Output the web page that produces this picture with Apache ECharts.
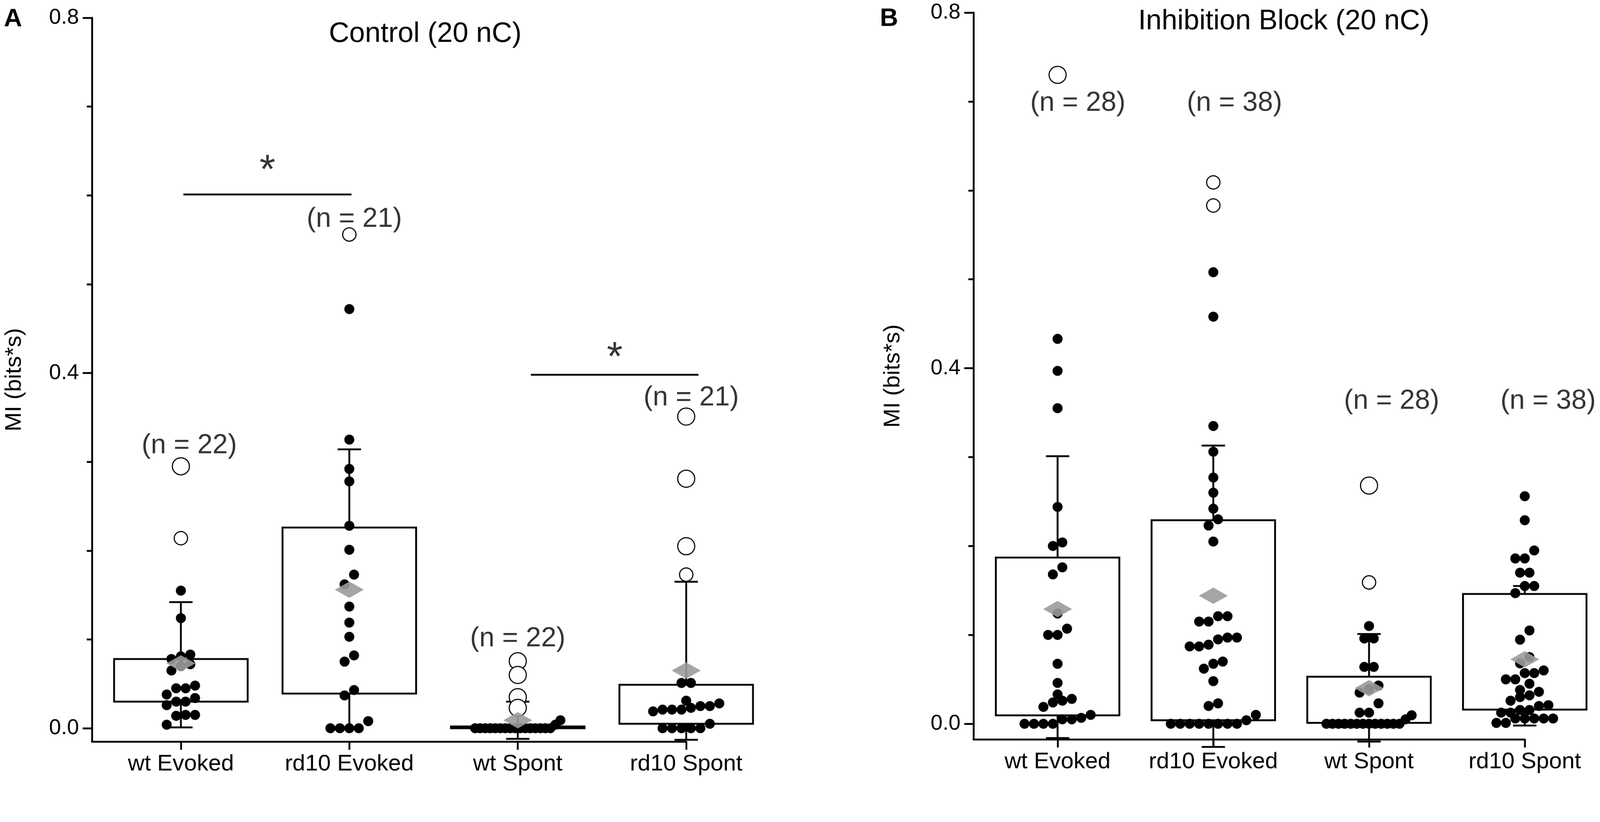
<!DOCTYPE html>
<html>
<head>
<meta charset="utf-8">
<title>MI: Control vs Inhibition Block</title>
<script src="https://cdn.jsdelivr.net/npm/echarts@6.0.0/dist/echarts.min.js"></script>
<style>
html, body { margin: 0; padding: 0; background: #fff; overflow: hidden; }
#plot { width: 4316px; height: 2105px; }
</style>
</head>
<body>
<div id="plot"></div>
<script>
// ---- data ----
var categories = ['wt Evoked', 'rd10 Evoked', 'wt Spont', 'rd10 Spont'];
var yTickLabels = [0, 0.4, 0.8];
var yMinorTicks = [0.1, 0.2, 0.3, 0.5, 0.6, 0.7];

// A: Control (20 nC)
var ctrlN = [22, 21, 22, 21];
var ctrlDots = [
	[0.155, 0.124, 0.083, 0.081, 0.078, 0.072, 0.070, 0.065, 0.048, 0.045, 0.045, 0.038, 0.034, 0.030, 0.030, 0.026, 0.015, 0.015, 0.014, 0.004],
	[0.472, 0.325, 0.292, 0.278, 0.228, 0.201, 0.173, 0.162, 0.137, 0.119, 0.103, 0.082, 0.075, 0.043, 0.037, 0.008, 0, 0, 0, 0],
	[0.009, 0.004, 0, 0, 0, 0, 0, 0, 0, 0, 0, 0, 0, 0, 0, 0, 0, 0],
	[0.051, 0.051, 0.031, 0.028, 0.025, 0.025, 0.023, 0.021, 0.021, 0.021, 0.019, 0.005, 0, 0, 0, 0, 0]
];
var ctrlOpenSmall = [[0.214], [0.556], [], [0.173]];
var ctrlOpenLarge = [[0.295], [], [0.0755, 0.060, 0.035, 0.023], [0.351, 0.281, 0.205]];
var ctrlBox = [[0.030, 0.078], [0.039, 0.226], [0.0, 0.002], [0.005, 0.049]];
var ctrlWhisker = [[0.001, 0.142], [0.0, 0.314], [-0.012, 0.030], [-0.013, 0.165]];
var ctrlMean = [0.073, 0.156, 0.009, 0.065];
// from, to, bar level, star level
var ctrlSig = [[0.015, 1.013, 0.601, 0.638], [2.078, 3.073, 0.398, 0.427]];

// B: Inhibition Block (20 nC)
var blockN = [28, 38, 28, 38];
var blockDots = [
	[0.433, 0.397, 0.355, 0.244, 0.204, 0.200, 0.176, 0.168, 0.124, 0.107, 0.100, 0.100, 0.0675, 0.046, 0.033, 0.028, 0.026, 0.024, 0.019, 0.010, 0.0067, 0.005, 0.005, 0, 0, 0, 0],
	[0.508, 0.458, 0.335, 0.306, 0.277, 0.260, 0.242, 0.230, 0.223, 0.205, 0.121, 0.121, 0.115, 0.115, 0.097, 0.097, 0.095, 0.089, 0.087, 0.087, 0.070, 0.0675, 0.062, 0.048, 0.023, 0.020, 0.010, 0.004, 0, 0, 0, 0, 0, 0, 0, 0],
	[0.110, 0.096, 0.096, 0.064, 0.064, 0.043, 0.039, 0.035, 0.023, 0.0125, 0.0125, 0.0096, 0.005, 0, 0, 0, 0, 0, 0, 0, 0, 0, 0, 0, 0, 0],
	[0.256, 0.229, 0.195, 0.186, 0.186, 0.170, 0.170, 0.155, 0.155, 0.147, 0.105, 0.0946, 0.075, 0.068, 0.060, 0.057, 0.057, 0.050, 0.050, 0.045, 0.038, 0.036, 0.032, 0.030, 0.026, 0.021, 0.020, 0.0155, 0.0155, 0.0125, 0.0125, 0.006, 0.006, 0.006, 0.006, 0.006, 0.001, 0.001]
];
var blockOpenSmall = [[], [0.609, 0.583], [0.159], []];
var blockOpenLarge = [[0.730], [], [0.268], []];
var blockBox = [[0.0095, 0.187], [0.004, 0.229], [0.001, 0.053], [0.016, 0.146]];
var blockWhisker = [[-0.016, 0.301], [-0.026, 0.313], [-0.02, 0.101], [-0.002, 0.155]];
var blockMean = [0.129, 0.144, 0.040, 0.0725];
var blockSig = [];

// ---- layout / style ----
var W = 4316, H = 2105;
var FONT = '"Liberation Sans", Arial, Helvetica, sans-serif';
var LINE_W = 5;
var BOX_W = 0.793;      // in category units
var CAP_PX = 63;
var DOT = 27, OPEN_S = 36, OPEN_L = 46;
var SLOT_PX = 25.5, ROW_MAX_PX = 230, BIN_H = 0.0113;

var panels = [
	{ letter: 'A', title: 'Control (20 nC)', n: ctrlN, dots: ctrlDots, openS: ctrlOpenSmall, openL: ctrlOpenLarge,
	  box: ctrlBox, whisker: ctrlWhisker, mean: ctrlMean, sig: ctrlSig,
	  grid: { left: 248, top: 48, width: 1603, height: 1953 }, xMin: -0.528, yMin: -0.015,
	  nPos: [[0.05, 0.318], [1.03, 0.573], [2.0, 0.1006], [3.03, 0.372]],
	  letterPos: [35, 52], titlePos: [1147, 92], nameGap: 178 },
	{ letter: 'B', title: 'Inhibition Block (20 nC)', n: blockN, dots: blockDots, openS: blockOpenSmall, openL: blockOpenLarge,
	  box: blockBox, whisker: blockWhisker, mean: blockMean, sig: blockSig,
	  grid: { left: 2626, top: 34, width: 1487, height: 1961 }, xMin: -0.54, yMin: -0.0175,
	  nPos: [[0.13, 0.698], [1.136, 0.698], [2.145, 0.363], [3.15, 0.363]],
	  letterPos: [2398, 51], titlePos: [3463, 58], nameGap: 186 }
];

// beeswarm: bin close values, spread each bin side by side (ascending left to right)
function swarm(values, cat, pxPerUnit) {
	var sorted = values.slice().sort(function (a, b) { return a - b; });
	var out = [], bin = [];
	function flush() {
		var k = bin.length;
		var step = k > 1 ? Math.min(SLOT_PX, ROW_MAX_PX / (k - 1)) : 0;
		for (var j = 0; j < k; j++)
			out.push([cat + (j - (k - 1) / 2) * step / pxPerUnit, bin[j]]);
		bin = [];
	}
	for (var i = 0; i < sorted.length; i++) {
		if (bin.length && sorted[i] - bin[0] >= BIN_H) flush();
		bin.push(sorted[i]);
	}
	if (bin.length) flush();
	return out;
}

function renderBox(params, api) {
	var x = api.value(0);
	var lo = api.coord([x, api.value(1)]);
	var q1 = api.coord([x, api.value(2)]);
	var q3 = api.coord([x, api.value(3)]);
	var hi = api.coord([x, api.value(4)]);
	var half = api.size([BOX_W, 0])[0] / 2;
	var cap = CAP_PX / 2;
	function ln(x1, y1, x2, y2) {
		return { type: 'line', shape: { x1: x1, y1: y1, x2: x2, y2: y2 }, style: { stroke: '#000', lineWidth: LINE_W } };
	}
	return { type: 'group', children: [
		ln(hi[0], hi[1], q3[0], q3[1]),
		ln(q1[0], q1[1], lo[0], lo[1]),
		ln(hi[0] - cap, hi[1], hi[0] + cap, hi[1]),
		ln(lo[0] - cap, lo[1], lo[0] + cap, lo[1]),
		{ type: 'rect', shape: { x: q3[0] - half, y: q3[1], width: half * 2, height: Math.max(q1[1] - q3[1], 1) },
		  style: { fill: 'none', stroke: '#000', lineWidth: LINE_W } }
	] };
}

function renderSig(params, api) {
	var a = api.coord([api.value(0), api.value(2)]);
	var b = api.coord([api.value(1), api.value(2)]);
	return { type: 'line', shape: { x1: a[0], y1: a[1], x2: b[0], y2: b[1] }, style: { stroke: '#000', lineWidth: LINE_W } };
}

var grids = [], xAxes = [], yAxes = [], series = [], graphics = [];

panels.forEach(function (p, g) {
	grids.push(p.grid);
	var pxPerUnit = p.grid.width / (3 - p.xMin);

	xAxes.push({
		type: 'value', gridIndex: g, min: p.xMin, max: 3,
		axisLine: { onZero: false, lineStyle: { color: '#000', width: LINE_W } },
		axisTick: { customValues: [0, 1, 2, 3], length: 22, lineStyle: { color: '#000', width: LINE_W } },
		axisLabel: { customValues: [0, 1, 2, 3], margin: 30, fontSize: 62, color: '#000', fontFamily: FONT,
			formatter: function (v) { return categories[Math.round(v)]; } },
		splitLine: { show: false }
	});
	yAxes.push({
		type: 'value', gridIndex: g, min: p.yMin, max: 0.8, position: 'left',
		name: 'MI (bits*s)', nameLocation: 'middle', nameGap: p.nameGap,
		nameTextStyle: { fontSize: 62, color: '#000', fontFamily: FONT },
		axisLine: { show: true, onZero: false, lineStyle: { color: '#000', width: LINE_W } },
		axisTick: { customValues: yTickLabels, length: 25, lineStyle: { color: '#000', width: LINE_W } },
		axisLabel: { customValues: yTickLabels, margin: 35, fontSize: 58, color: '#000', fontFamily: FONT,
			formatter: function (v) { return v.toFixed(1); } },
		splitLine: { show: false }
	});
	yAxes.push({
		type: 'value', gridIndex: g, min: p.yMin, max: 0.8, position: 'left',
		axisLine: { show: false, onZero: false },
		axisTick: { customValues: yMinorTicks, length: 14, lineStyle: { color: '#000', width: LINE_W } },
		axisLabel: { show: false },
		splitLine: { show: false }
	});

	var axes = { xAxisIndex: g, yAxisIndex: 2 * g };
	var dots = [], openS = [], openL = [];
	p.dots.forEach(function (vals, i) { dots = dots.concat(swarm(vals, i, pxPerUnit)); });
	p.openS.forEach(function (vals, i) { vals.forEach(function (v) { openS.push([i, v]); }); });
	p.openL.forEach(function (vals, i) { vals.forEach(function (v) { openL.push([i, v]); }); });

	series.push(Object.assign({
		type: 'custom', clip: false, z: 2, renderItem: renderBox,
		data: p.box.map(function (b, i) { return [i, p.whisker[i][0], b[0], b[1], p.whisker[i][1]]; })
	}, axes));
	series.push(Object.assign({
		type: 'scatter', clip: false, z: 3, symbol: 'circle', symbolSize: DOT,
		itemStyle: { color: '#000', opacity: 1 }, data: dots
	}, axes));
	[[openS, OPEN_S], [openL, OPEN_L]].forEach(function (o) {
		series.push(Object.assign({
			type: 'scatter', clip: false, z: 4, symbol: 'circle', symbolSize: o[1],
			itemStyle: { color: '#fff', borderColor: '#000', borderWidth: 3, opacity: 1 }, data: o[0]
		}, axes));
	});
	series.push(Object.assign({
		type: 'scatter', clip: false, z: 5, symbol: 'diamond', symbolSize: [78, 44],
		itemStyle: { color: '#9b9b9b', opacity: 0.9 },
		data: p.mean.map(function (m, i) { return [i, m]; })
	}, axes));
	series.push(Object.assign({
		type: 'scatter', clip: false, z: 6, symbolSize: 1, itemStyle: { color: 'transparent' },
		label: { show: true, position: 'inside', fontSize: 74, color: '#000', fontFamily: FONT,
			formatter: function (d) { return '(n = ' + p.n[d.dataIndex] + ')'; } },
		data: p.nPos
	}, axes));
	if (p.sig.length) {
		series.push(Object.assign({
			type: 'custom', clip: false, z: 6, renderItem: renderSig, data: p.sig
		}, axes));
		series.push(Object.assign({
			type: 'scatter', clip: false, z: 6, symbolSize: 1, itemStyle: { color: 'transparent' },
			label: { show: true, position: 'inside', fontSize: 110, color: '#000', fontFamily: FONT,
				offset: [0, 26], formatter: '*' },
			data: p.sig.map(function (s) { return [(s[0] + s[1]) / 2, s[3]]; })
		}, axes));
	}

	graphics.push({ type: 'text', x: p.letterPos[0], y: p.letterPos[1], z: 10,
		style: { text: p.letter, fontSize: 68, fontWeight: 'bold', fontFamily: FONT, fill: '#000',
			textAlign: 'center', textVerticalAlign: 'middle', align: 'center', verticalAlign: 'middle' } });
	graphics.push({ type: 'text', x: p.titlePos[0], y: p.titlePos[1], z: 10,
		style: { text: p.title, fontSize: 76, fontFamily: FONT, fill: '#000',
			textAlign: 'center', textVerticalAlign: 'middle', align: 'center', verticalAlign: 'middle' } });
});

// if the viewport is narrower than the figure, shrink the whole figure to fit
var el = document.getElementById('plot');
var fit = Math.min(window.innerWidth / W, window.innerHeight / H);
if (fit > 0 && fit < 0.999) {
	el.style.transformOrigin = '0 0';
	el.style.transform = 'scale(' + fit + ')';
}

var myChart = echarts.init(el, null, { width: W, height: H });
myChart.setOption({
	animation: false,
	backgroundColor: '#fff',
	grid: grids,
	xAxis: xAxes,
	yAxis: yAxes,
	graphic: graphics,
	series: series
});
</script>
</body>
</html>
